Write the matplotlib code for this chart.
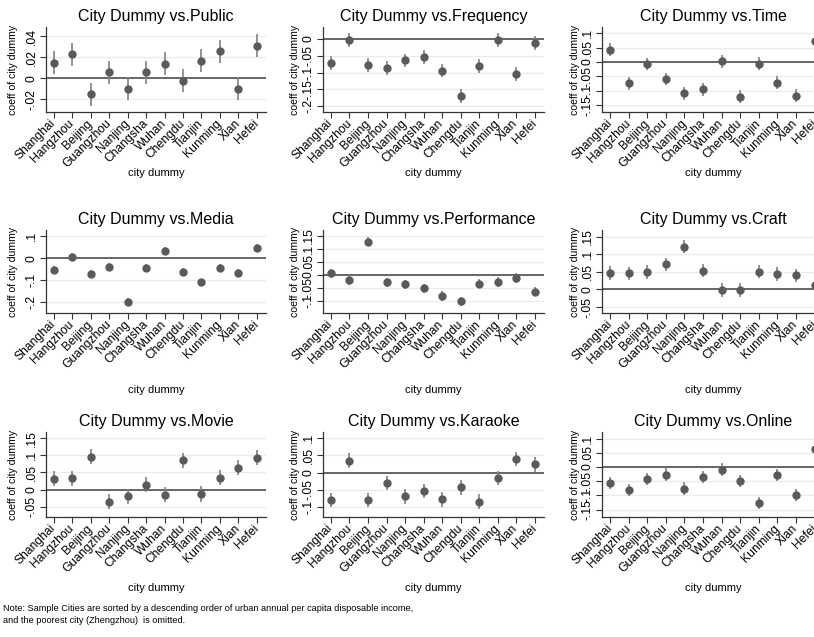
import matplotlib
matplotlib.use("Agg")
import matplotlib.pyplot as plt

plt.rcParams['font.family'] = ['Liberation Sans', 'DejaVu Sans']

cities = ["Shanghai", "Hangzhou", "Beijing", "Guangzhou", "Nanjing", "Changsha",
          "Wuhan", "Chengdu", "Tianjin", "Kunming", "Xian", "Hefei"]

public = [.015, .023, -.015, .006, -.010, .006, .014, -.002, .017, .026, -.010, .031]
frequency = [-.072, -.004, -.078, -.086, -.064, -.054, -.094, -.170, -.081, -.004, -.104, -.013]
time_ = [.043, -.074, -.007, -.059, -.108, -.095, .002, -.120, -.006, -.072, -.116, .071]
media = [-.056, .006, -.072, -.039, -.200, -.045, .032, -.063, -.111, -.045, -.069, .044]
performance = [.005, -.020, .128, -.030, -.037, -.052, -.082, -.103, -.035, -.028, -.013, -.066]
craft = [.047, .046, .050, .071, .122, .053, -.002, -.002, .051, .044, .040, .012]
movie = [.031, .033, .096, -.035, -.019, .014, -.015, .085, -.013, .034, .064, .093]
karaoke = [-.080, .035, -.080, -.030, -.069, -.053, -.078, -.043, -.084, -.015, .040, .024]
online = [-.057, -.081, -.042, -.027, -.076, -.035, -.009, -.050, -.127, -.028, -.099, .062]

# half width of the 95% interval, read per panel
ci_half = {"Public": .011, "Frequency": .020, "Time": .022, "Media": .018,
           "Performance": .018, "Craft": .019, "Movie": .022, "Karaoke": .021,
           "Online": .022}

panels = [
    ("Public", public, [-.02, 0, .02, .04], (-.032, .049)),
    ("Frequency", frequency, [-.2, -.15, -.1, -.05, 0], (-.217, .035)),
    ("Time", time_, [-.15, -.1, -.05, 0, .05, .1], (-.173, .121)),
    ("Media", media, [-.2, -.1, 0, .1], (-.25, .128)),
    ("Performance", performance, [-.1, -.05, 0, .05, .1, .15], (-.148, .173)),
    ("Craft", craft, [-.05, 0, .05, .1, .15], (-.067, .169)),
    ("Movie", movie, [-.05, 0, .05, .1, .15], (-.08, .168)),
    ("Karaoke", karaoke, [-.1, -.05, 0, .05, .1], (-.129, .118)),
    ("Online", online, [-.15, -.1, -.05, 0, .05, .1], (-.176, .123)),
]

W, H = 814, 637
fig = plt.figure(figsize=(W / 100, H / 100), dpi=100)

col_left = [46, 323, 602]
col_w = [220, 221, 222]
row_top = [27, 230, 432]
row_bot = [112, 313, 517]
xlab_y = [173, 390, 588]
ylab_x = [13, 295, 575]


def stata_fmt(v):
    s = f"{v:g}"
    if s.startswith("0."):
        s = s[1:]
    elif s.startswith("-0."):
        s = "-" + s[2:]
    return s


x = list(range(1, len(cities) + 1))
for i, (name, vals, ticks, ylim) in enumerate(panels):
    r, c = divmod(i, 3)
    l, w = col_left[c], col_w[c]
    t, b = row_top[r], row_bot[r]
    ax = fig.add_axes([l / W, 1 - b / H, w / W, (b - t) / H])

    ax.set_xlim(0.57, 12.5)
    ax.set_ylim(*ylim)
    ax.set_yticks(ticks)
    ax.set_yticklabels([stata_fmt(v) for v in ticks], rotation=90, va="center")
    for v in ticks:
        ax.axhline(v, color="#ebebeb", lw=0.9, zorder=0)
    ax.axhline(0, color="#666666", lw=1.4, zorder=1)

    h = ci_half[name]
    ax.vlines(x, [v - h for v in vals], [v + h for v in vals], color="#808080", lw=1.2, zorder=2)
    ax.plot(x, vals, "o", color="#5a5a5a", ms=5, zorder=3)

    ax.set_xticks(x)
    ax.set_xticklabels(cities, rotation=45, ha="right", va="center", rotation_mode="anchor")
    ax.tick_params(axis="both", labelsize=8.7, length=4, width=0.8, color="#333333", pad=2)
    ax.tick_params(axis="x", pad=3)

    for s in ("top", "right"):
        ax.spines[s].set_visible(False)
    for s in ("left", "bottom"):
        ax.spines[s].set_color("#333333")
        ax.spines[s].set_linewidth(0.9)

    ax.set_title("City Dummy vs." + name, fontsize=11.5, pad=4)
    fig.text((l + w / 2) / W, 1 - xlab_y[r] / H, "city dummy", fontsize=8,
             ha="center", va="center")
    fig.text(ylab_x[c] / W, 1 - (t + b) / 2 / H, "coeff of city dummy", fontsize=7.6,
             rotation=90, ha="center", va="center")

fig.text(3 / W, 1 - 604 / H,
         "Note: Sample Cities are sorted by a descending order of urban annual per capita disposable income,\n"
         "and the poorest city (Zhengzhou)  is omitted.",
         fontsize=6.6, ha="left", va="top", linespacing=1.45)

fig.savefig("out.png", dpi=100)
